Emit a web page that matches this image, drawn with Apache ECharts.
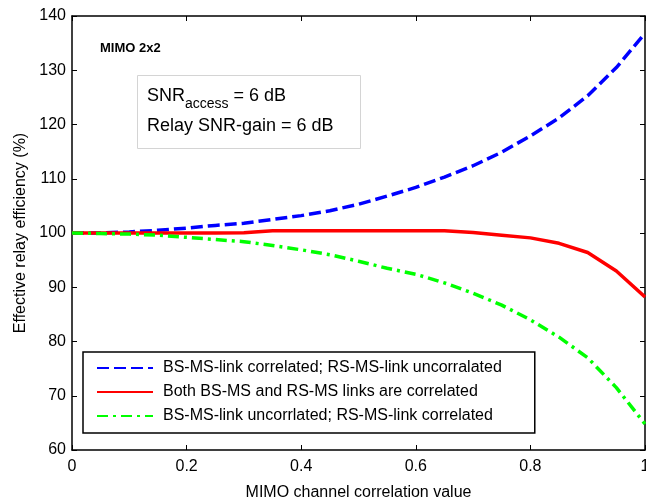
<!DOCTYPE html>
<html>
<head>
<meta charset="utf-8">
<script src="https://cdn.jsdelivr.net/npm/echarts@6/dist/echarts.min.js"></script>
<style>
html,body{margin:0;padding:0;background:#fff;}
#c{width:646px;height:502px;}
</style>
</head>
<body>
<div id="c"></div>
<script>
const correlation = [0,0.05,0.1,0.15,0.2,0.25,0.3,0.35,0.4,0.45,0.5,0.55,0.6,0.65,0.7,0.75,0.8,0.85,0.9,0.95,1.0];
const bsCorrelated = [100,100,100.2,100.5,100.9,101.4,101.8,102.5,103.2,104.1,105.3,106.8,108.4,110.3,112.4,114.9,117.9,121.2,125.3,130.5,136.8];
const bothCorrelated = [100,100,100,100,100,100,100.05,100.4,100.4,100.4,100.4,100.4,100.4,100.4,100.1,99.6,99.1,98.1,96.4,93.0,88.2];
const rsCorrelated = [100,99.9,99.8,99.6,99.2,98.8,98.4,97.7,96.9,96.0,94.8,93.5,92.4,90.8,88.9,86.7,84.0,80.8,77.0,71.5,64.8];
const seriesNames = [
  'BS-MS-link correlated; RS-MS-link uncorralated',
  'Both BS-MS and RS-MS links are correlated',
  'BS-MS-link uncorrlated; RS-MS-link correlated'
];

const pairs = ys => correlation.map((x,i)=>[x, ys[i]]);
const FONT = '"Liberation Sans", Arial, Helvetica, sans-serif';

const chart = echarts.init(document.getElementById('c'), null, {renderer:'canvas'});
const axisLine = () => ({show:true, onZero:false, lineStyle:{color:'#000', width:1.5}});
const tick = () => ({show:true, inside:true, length:5, lineStyle:{color:'#000', width:1}});
chart.setOption({
  animation:false,
  backgroundColor:'#fff',
  grid:{left:72, right:1, top:16, bottom:52, containLabel:false, outerBoundsMode:'none'},
  xAxis:[{
    type:'value', min:0, max:1, interval:0.2, position:'bottom',
    name:'MIMO channel correlation value', nameLocation:'middle', nameGap:35,
    nameTextStyle:{fontFamily:FONT, fontSize:16, color:'#000'},
    axisLine:axisLine(), axisTick:tick(), splitLine:{show:false},
    axisLabel:{fontFamily:FONT, fontSize:16, color:'#000', margin:9,
      formatter:v=>String(Math.round(v*10)/10)}
  },{
    type:'value', min:0, max:1, interval:0.2, position:'top',
    axisLine:axisLine(), axisTick:tick(), axisLabel:{show:false}, splitLine:{show:false}
  }],
  yAxis:[{
    type:'value', min:60, max:140, interval:10, position:'left',
    name:'Effective relay efficiency (%)', nameLocation:'middle', nameGap:42, nameRotate:90,
    nameTextStyle:{fontFamily:FONT, fontSize:16, color:'#000'},
    axisLine:axisLine(), axisTick:tick(), splitLine:{show:false},
    axisLabel:{fontFamily:FONT, fontSize:16, color:'#000', margin:6}
  },{
    type:'value', min:60, max:140, interval:10, position:'right',
    axisLine:axisLine(), axisTick:tick(), axisLabel:{show:false}, splitLine:{show:false}
  }],
  legend:{
    orient:'vertical', left:83, top:352,
    data:seriesNames,
    backgroundColor:'#fff', borderColor:'#000', borderWidth:1.5, borderRadius:0,
    padding:[7,33,8,13], itemGap:6, itemWidth:56, itemHeight:14,
    selectedMode:false,
    itemStyle:{opacity:0},
    textStyle:{fontFamily:FONT, fontSize:16, color:'#000', lineHeight:18, padding:[0,0,0,5]}
  },
  series:[
    {name:seriesNames[0], type:'line', data:pairs(bsCorrelated), symbol:'none',
      lineStyle:{color:'#0000ff', width:3.5, type:[12,5]}, itemStyle:{color:'#0000ff'}},
    {name:seriesNames[1], type:'line', data:pairs(bothCorrelated), symbol:'none',
      lineStyle:{color:'#ff0000', width:3.5, type:'solid'}, itemStyle:{color:'#ff0000'}},
    {name:seriesNames[2], type:'line', data:pairs(rsCorrelated), symbol:'none',
      lineStyle:{color:'#00ff00', width:3.5, type:[11,5,3,5]}, itemStyle:{color:'#00ff00'}}
  ],
  graphic:[
    {type:'text', left:100, top:42, style:{text:'MIMO 2x2', fontFamily:FONT, fontSize:13, fontWeight:'bold', fill:'#000'}},
    {type:'rect', shape:{x:137.5, y:75.5, width:223, height:73}, style:{fill:'#fff', stroke:'#d4d4d4', lineWidth:1}},
    {type:'text', x:147, y:87, style:{
      text:'{a|SNR}{s|access}{a| = 6 dB}',
      rich:{
        a:{fontFamily:FONT, fontSize:18, fill:'#000', verticalAlign:'top', lineHeight:24},
        s:{fontFamily:FONT, fontSize:14, fill:'#000', verticalAlign:'top', lineHeight:24, padding:[10,0,0,0]}
      }}},
    {type:'text', x:147, y:117, style:{text:'Relay SNR-gain = 6 dB', fontFamily:FONT, fontSize:18, fill:'#000'}}
  ]
});
</script>
</body>
</html>
